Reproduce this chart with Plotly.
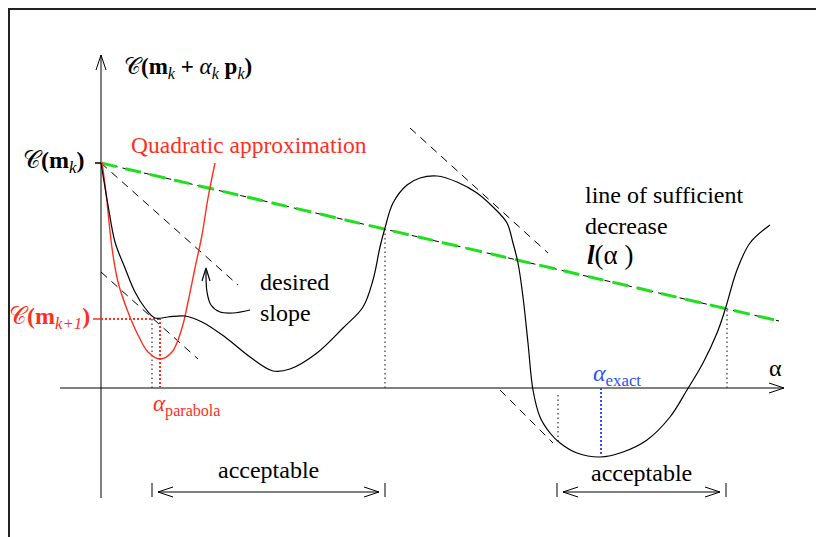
import numpy as np
import plotly.graph_objects as go

FONT = "Times New Roman, Liberation Serif, DejaVu Serif, serif"
RED = "#ff2f1f"
GREEN = "#1fe01f"
BLUE = "#2f4fff"

# diagram units: pixels measured from the axes origin, cost pointing up
cost_alpha = [0, 7, 14, 24, 34, 44, 54, 67, 84, 101, 124, 149, 172, 189, 216, 242, 262, 272, 279,
              284, 292, 306, 319, 336, 356, 376, 392, 406, 412, 417, 422, 427, 432, 439, 449, 459,
              476, 499, 522, 546, 569, 586, 602, 616, 624, 636, 649, 669]
cost_value = [225, 183, 146, 120, 96, 80, 70, 71, 72, 66, 51, 31, 17, 19, 35, 60, 81, 108, 141,
              160, 185, 203, 210, 212, 206, 195, 181, 165, 145, 125, 91, 45, -2, -29, -45, -55,
              -65, -69, -64, -52, -29, -2, 25, 55, 78, 118, 145, 163]

parab_alpha = [1, 5, 11, 17, 27, 37, 47, 59, 71, 81, 87, 94, 101, 107, 114]
parab_value = [226, 195, 140, 106, 76, 53, 36, 29, 36, 60, 86, 120, 153, 190, 225]

# line of sufficient decrease l(alpha)
suff_alpha = [0, 678]
suff_value = [225, 67]

# tangent (slope) lines
tangents = [
    ([0, 137], [225, 103]),
    ([0, 97], [116, 29]),
    ([309, 447], [260, 135]),
    ([399, 452], [-2, -55]),
]

# dotted markers of acceptable points
drop_alpha = [51, 284, 457, 626]
drop_top = [70, 160, -54, 79]
drop_base = [0, 0, -7, 0]

alpha_parabola, c_next = 59, 69
alpha_exact, c_exact = 500, -68

# acceptable intervals
accept_lo = [51, 456]
accept_hi = [284, 625]
accept_label_y = [-82, -85]

# curved pointer for "desired slope"
pointer_alpha = [149, 132, 119, 110, 106, 105]
pointer_value = [78, 75, 76, 83, 96, 118]

# page has an 8px body margin, so the visible window starts 8px into the figure
X_RANGE = [-93, 731]
Y_RANGE = [-157, 380]


def vhead(tip, frm, length=15, half=5):
    tip = np.array(tip, float)
    d = tip - np.array(frm, float)
    d /= np.linalg.norm(d)
    n = np.array([-d[1], d[0]])
    base = tip - d * length
    a, b = base + n * half, base - n * half
    return [a[0], tip[0], b[0], None], [a[1], tip[1], b[1], None]


def seg(fig, xs, ys, color="black", width=1.0, dash="solid", shape="linear"):
    fig.add_trace(go.Scatter(x=xs, y=ys, mode="lines", hoverinfo="skip", showlegend=False,
                             line=dict(color=color, width=width, dash=dash, shape=shape)))


def label(fig, x, y, text, color="black", size=24, xanchor="center", align="center"):
    fig.add_annotation(x=x, y=y, text=text, showarrow=False, xanchor=xanchor, align=align,
                       font=dict(family=FONT, size=size, color=color))


fig = go.Figure()

# frame
seg(fig, [-92, -92, X_RANGE[1]], [Y_RANGE[0], 379, 379], color="#222", width=2)

# axes with open arrow heads
seg(fig, [-41, 683], [0, 0])
hx, hy = vhead((683, 0), (0, 0))
seg(fig, hx, hy)
seg(fig, [0, 0], [-110, 333])
hx, hy = vhead((0, 333), (0, 0))
seg(fig, hx, hy)
seg(fig, [-6, 0], [225, 225], width=1.5)
seg(fig, [-8, 0], [c_next, c_next], color=RED, width=1.5)

# tangents
for tx, ty in tangents:
    seg(fig, tx, ty, dash="8px,6px")

# sufficient decrease line
seg(fig, suff_alpha, suff_value, dash="6px,5px")
seg(fig, suff_alpha, suff_value, color=GREEN, width=3, dash="16px,9px")

# dotted drops
for a, top, base in zip(drop_alpha, drop_top, drop_base):
    seg(fig, [a, a], [base, top], color="#333", width=1.2, dash="1.5px,3px")

# parabola and its minimum
seg(fig, [0, alpha_parabola], [c_next, c_next], color=RED, width=2, dash="2px,2px")
seg(fig, [alpha_parabola, alpha_parabola], [0, c_next], color=RED, width=2, dash="2px,2px")
seg(fig, parab_alpha, parab_value, color=RED, width=1.4, shape="spline")

# exact minimum
seg(fig, [alpha_exact, alpha_exact], [0, c_exact], color=BLUE, width=2, dash="2px,2px")

# objective function
seg(fig, cost_alpha, cost_value, width=1.2, shape="spline")

# desired slope pointer
seg(fig, pointer_alpha, pointer_value, width=1.2, shape="spline")
hx, hy = vhead((105, 120), (105, 100), length=13, half=4)
seg(fig, hx, hy, width=1.2)

# acceptable brackets
for lo, hi, ly in zip(accept_lo, accept_hi, accept_label_y):
    seg(fig, [lo, lo, None, hi, hi], [-95, -109, None, -95, -109])
    seg(fig, [lo + 6, hi - 6], [-104, -104])
    hx, hy = vhead((lo + 6, -104), (hi, -104))
    seg(fig, hx, hy)
    hx, hy = vhead((hi - 6, -104), (lo, -104))
    seg(fig, hx, hy)
    label(fig, (lo + hi) / 2, ly, "acceptable")

C = "𝒞"
label(fig, 21, 320, C + "<b>(m</b><sub><i>k</i></sub><b> + </b><i>α</i><sub><i>k</i></sub><b> p</b><sub><i>k</i></sub><b>)</b>",
      size=23, xanchor="left")
label(fig, -15, 226, C + "<b>(m</b><sub><i>k</i></sub><b>)</b>", size=24, xanchor="right")
label(fig, -9, 70, C + "<b>(m</b><sub><i>k+1</i></sub><b>)</b>", color=RED, size=24, xanchor="right")
label(fig, 28, 243, "Quadratic approximation", color=RED, size=23.5, xanchor="left")
label(fig, 157, 91, "desired<br>slope", xanchor="left", align="left")
label(fig, 482, 178, "line of sufficient<br>decrease", xanchor="left", align="left")
label(fig, 484, 133, "<b><i>l</i></b>(α )", size=27, xanchor="left")
label(fig, 674, 20, "α", size=24)
label(fig, 516, 13, "<i>α</i><sub>exact</sub>", color=BLUE, size=24)
label(fig, 85, -17, "<i>α</i><sub>parabola</sub>", color=RED, size=23)

fig.update_layout(
    width=824, height=537, margin=dict(l=0, r=0, t=0, b=0),
    paper_bgcolor="white", plot_bgcolor="white",
    xaxis=dict(range=X_RANGE, visible=False, fixedrange=True),
    yaxis=dict(range=Y_RANGE, visible=False, fixedrange=True),
    showlegend=False,
)
fig.write_html("out.html")
